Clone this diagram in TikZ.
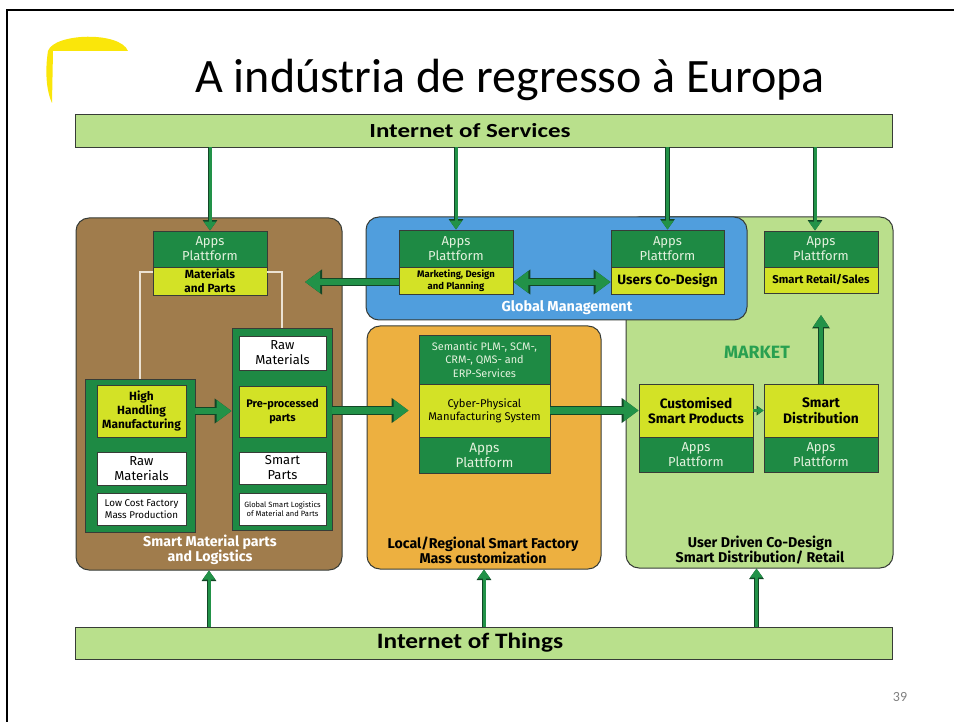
\documentclass[tikz,border=0pt]{standalone}
\usepackage{fontspec}
\setmainfont{Carlito}
\newfontfamily\pts{Fira Sans}
\usetikzlibrary{arrows.meta,calc}
\definecolor{dgreen}{RGB}{30,138,68}
\definecolor{ygreen}{RGB}{211,226,38}
\definecolor{barg}{RGB}{185,224,140}
\definecolor{mktg}{RGB}{186,223,140}
\definecolor{brownc}{RGB}{160,124,76}
\definecolor{bluec}{RGB}{80,158,221}
\definecolor{orangec}{RGB}{237,176,64}
\definecolor{bord}{RGB}{55,60,55}
\definecolor{agreen}{RGB}{34,146,72}
\definecolor{adark}{RGB}{18,70,38}
\definecolor{apptext}{RGB}{228,242,222}
\definecolor{mkttext}{RGB}{40,160,80}
\definecolor{lline}{RGB}{236,226,210}
\definecolor{sunyel}{RGB}{250,230,10}
\newcommand{\myfs}[2]{\fontsize{#1}{#2}\selectfont}
\newcommand{\bx}[7]{\node[#1, minimum width={#5pt-#3pt}, minimum height={#6pt-#4pt}] (#2) at ({(#3+#5)/2},{(#4+#6)/2}) {#7};}
\begin{document}
\begin{tikzpicture}[x=1pt,y=-1pt,
  boxbase/.style={draw=bord, line width=0.9pt, inner sep=0pt, align=center},
  bar/.style={boxbase, fill=barg},
  bartext/.style={font=\bfseries\myfs{20}{24}, inner sep=0pt},
  region/.style={boxbase, rounded corners=13pt, line width=1pt},
  appbox/.style={boxbase, fill=dgreen, text=apptext, font=\pts\myfs{13}{15}},
  ybox/.style={boxbase, fill=ygreen, text=black, font=\pts\bfseries\myfs{11.3}{13}},
  wbox/.style={boxbase, fill=white, text=black, font=\pts\myfs{13}{15}},
  cont/.style={boxbase, fill=dgreen},
  bigarr/.style={line width=6.5pt, draw=agreen, -{Triangle[width=21pt,length=15pt]},
     preaction={draw=adark, line width=8.5pt, -{Triangle[width=24pt,length=17pt]}}},
  dblarr/.style={line width=6.5pt, draw=agreen, {Triangle[width=21pt,length=15pt]}-{Triangle[width=21pt,length=15pt]},
     preaction={draw=adark, line width=8.5pt, {Triangle[width=24pt,length=17pt]}-{Triangle[width=24pt,length=17pt]}}},
  midarr/.style={line width=4.5pt, draw=agreen, -{Triangle[width=15pt,length=12pt]},
     preaction={draw=adark, line width=6pt, -{Triangle[width=17pt,length=13.5pt]}}},
  thinarr/.style={line width=3pt, draw=agreen, -{Triangle[width=12pt,length=9pt]},
     preaction={draw=adark, line width=4.5pt, -{Triangle[width=14pt,length=10.5pt]}}},
  smallarr/.style={line width=2.5pt, draw=agreen, -{Triangle[width=8pt,length=6pt]},
     preaction={draw=adark, line width=3.5pt, -{Triangle[width=9.5pt,length=7pt]}}},
  lightline/.style={draw=lline, line width=1.5pt},
  reglabel/.style={align=center, font=\pts\bfseries\myfs{14.2}{14.8}},
]
\useasboundingbox (0,0) rectangle (954,722);
% slide frame
\draw[line width=2.5pt] (7,722) -- (7,10) -- (954,10);
% decorative yellow fragment
\fill[sunyel] (48,51) .. controls (54,33) and (120,31) .. (128,51) -- cycle;
\fill[sunyel] (53,51) -- (48,51) .. controls (45,70) and (46,90) .. (52,103) -- cycle;
% title
\node[anchor=base, font=\myfs{48}{56}] (title) at (510,93) {A indústria de regresso à Europa};
\node[font=\myfs{14}{16}, text=black!50] (pnum) at (900,697) {39};
% bars
\bx{bar}{ios}{75}{114}{892}{147}{}
\node[bartext] (iosText) at (470,131) {\scalebox{1.25}[1]{Internet of Services}};
\bx{bar}{iot}{75}{627}{892}{659}{}
\node[bartext, font=\bfseries\myfs{22}{26}] (iotText) at (470,643) {\scalebox{1.15}[1]{Internet of Things}};
% regions
\bx{region, fill=mktg}{market}{626}{217}{893}{568}{}
\bx{region, fill=bluec}{blue}{366}{217}{747}{320}{}
\bx{region, fill=brownc}{brown}{76}{218}{342}{570}{}
\bx{region, fill=orangec}{orange}{367}{326}{601}{569}{}
% region labels
\node[reglabel, text=white] (lbBrown) at (210,550) {Smart Material parts\\and Logistics};
\node[reglabel, text=black] (lbOrange) at (483,550) {Local/Regional Smart Factory\\Mass customization};
\node[reglabel, text=black] (lbMarket) at (760,550) {User Driven Co-Design\\Smart Distribution/ Retail};
\node[reglabel, text=white, font=\pts\bfseries\myfs{14.4}{16}] (lbBlue) at (567,308) {Global Management};
\node[reglabel, text=mkttext, font=\pts\bfseries\myfs{17.8}{19}] (lbMkt) at (757,352) {MARKET};
% brown region content
\bx{appbox}{mpApp}{153}{231}{267}{267}{Apps\\Plattform}
\bx{ybox, font=\pts\bfseries\myfs{11.8}{13.5}}{mpYel}{153}{267}{267}{295}{Materials\\and Parts}
\draw[lightline] (mpYel.west |- 0,272) -| (140,379);
\draw[lightline] (mpYel.east |- 0,272) -| (282,328);
\bx{cont}{leftCont}{85}{379}{195}{532}{}
\bx{ybox, font=\pts\bfseries\myfs{11.9}{13.8}}{hhm}{97}{385}{186}{437}{High\\Handling\\Manufacturing}
\bx{wbox}{rawL}{97}{452}{186}{485}{Raw\\Materials}
\bx{wbox, font=\pts\myfs{9.8}{11.5}}{lowcost}{97}{493}{186}{525}{Low Cost Factory\\Mass Production}
\bx{cont}{rightCont}{232}{328}{332}{530}{}
\bx{wbox}{rawR}{239}{336}{326}{370}{Raw\\Materials}
\bx{ybox, font=\pts\bfseries\myfs{11}{14}}{prep}{239}{386}{326}{437}{Pre-processed\\parts}
\bx{wbox}{smartParts}{239}{452}{326}{484}{Smart\\Parts}
\bx{wbox, font=\pts\myfs{7.6}{9.5}}{gsl}{239}{493}{326}{525}{Global Smart Logistics\\of Material and Parts}
% blue region content
\bx{appbox}{mkApp}{399}{230}{513}{267}{Apps\\Plattform}
\bx{ybox, font=\pts\bfseries\myfs{9.5}{12.5}}{mkYel}{399}{267}{513}{294}{Marketing, Design\\and Planning}
\bx{appbox}{ucApp}{611}{230}{724}{267}{Apps\\Plattform}
\bx{ybox, font=\pts\bfseries\myfs{13.5}{15}}{ucYel}{611}{267}{724}{294}{Users Co-Design}
% orange region content
\bx{appbox, font=\pts\myfs{10.9}{13.5}}{sem}{419}{335}{550}{384}{Semantic PLM-, SCM-,\\CRM-, QMS- and\\ERP-Services}
\bx{ybox, font=\pts\myfs{11.2}{13}}{cps}{419}{384}{550}{437}{Cyber-Physical\\Manufacturing System}
\bx{appbox, font=\pts\myfs{13.5}{15}}{cpApp}{419}{437}{550}{473}{Apps\\Plattform}
% market region content
\bx{appbox}{srApp}{764}{231}{878}{267}{Apps\\Plattform}
\bx{ybox}{srYel}{764}{267}{878}{293}{Smart Retail/Sales}
\bx{ybox, font=\pts\bfseries\myfs{13.6}{15.5}}{csp}{639}{384}{753}{437}{Customised\\Smart Products}
\bx{appbox}{cspApp}{639}{437}{753}{472}{Apps\\Plattform}
\bx{ybox, font=\pts\bfseries\myfs{13.8}{16}}{sd}{764}{384}{878}{437}{Smart\\Distribution}
\bx{appbox}{sdApp}{764}{437}{878}{472}{Apps\\Plattform}
% arrows from Internet of Services
\draw[thinarr] (ios.south -| mpApp.north) -- (mpApp.north);
\draw[thinarr] (ios.south -| mkApp.north) -- (mkApp.north);
\draw[thinarr] (ios.south -| ucApp.north) -- (ucApp.north);
\coordinate (srIn) at ([xshift=-6pt]srApp.north);
\draw[thinarr] (ios.south -| srIn) -- (srIn);
% arrows from Internet of Things
\draw[thinarr] (iot.north -| brown.south) -- (brown.south);
\draw[thinarr] (iot.north -| orange.south) -- (orange.south);
\coordinate (mkIn) at ([xshift=-3pt]market.south);
\draw[thinarr] (iot.north -| mkIn) -- (mkIn);
% flow arrows
\coordinate (mpTip) at (305,282);
\draw[bigarr] (mkYel.west |- mpTip) -- (mpTip);
\draw[dblarr] (mkYel.east |- mpTip) -- (ucYel.west |- mpTip);
\draw[bigarr] (hhm.east -| leftCont.east) -- (hhm.east -| rightCont.west);
\draw[bigarr, shorten >=10pt] (cps.west -| rightCont.east) -- (cps.west);
\draw[bigarr] (cps.east) -- (cps.east -| csp.west);
\draw[smallarr] (csp.east) -- (sd.west);
\coordinate (srTip) at (821,315);
\draw[midarr] (sd.north) -- (srTip);
\end{tikzpicture}
\end{document}
